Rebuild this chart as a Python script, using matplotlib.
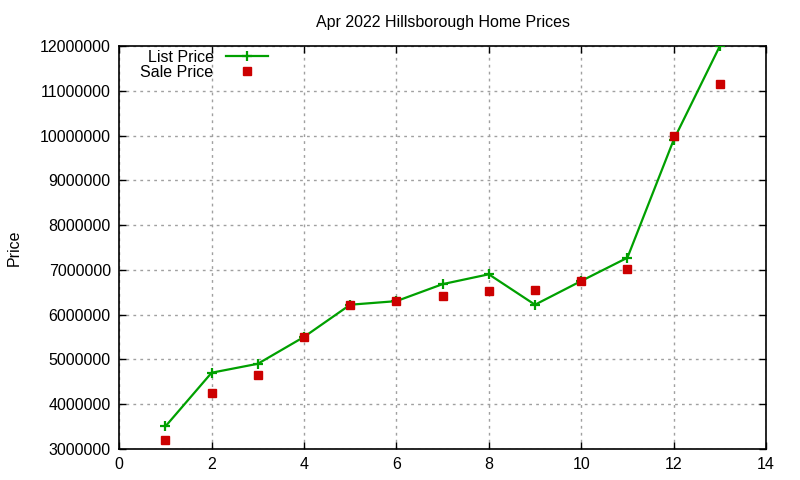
import matplotlib
matplotlib.use("Agg")
import matplotlib.pyplot as plt
from matplotlib.ticker import FuncFormatter

plt.rcParams['font.family'] = ['Liberation Sans', 'DejaVu Sans']

x = [1, 2, 3, 4, 5, 6, 7, 8, 9, 10, 11, 12, 13]
list_price = [3500000, 4700000, 4900000, 5500000, 6220000, 6300000, 6680000,
              6900000, 6220000, 6750000, 7270000, 9900000, 12000000]
sale_price = [3200000, 4250000, 4640000, 5500000, 6210000, 6300000, 6420000,
              6520000, 6560000, 6750000, 7020000, 10000000, 11150000]
x_ticks = [0, 2, 4, 6, 8, 10, 12, 14]
y_ticks = [3000000, 4000000, 5000000, 6000000, 7000000, 8000000, 9000000,
           10000000, 11000000, 12000000]

fig = plt.figure(figsize=(8, 4.8), dpi=100)
ax = fig.add_axes([0.149, 0.065, 0.8085, 0.839])

ax.plot(x, list_price, color='#00a000', lw=1.6, marker='+', ms=6.5, mew=1.6,
        label='List Price', zorder=3)
ax.plot(x, sale_price, ls='none', color='#cc0000', marker='s', ms=6,
        label='Sale Price', zorder=4)

ax.set_xlim(0, 14)
ax.set_ylim(3000000, 12000000)
ax.set_xticks(x_ticks)
ax.set_yticks(y_ticks)
ax.yaxis.set_major_formatter(FuncFormatter(lambda v, p: f"{int(round(v))}"))
ax.tick_params(direction='in', top=True, right=True, length=5, width=1,
               labelsize=11.5, pad=6)
ax.grid(True, color='#a0a0a0', ls=(0, (2, 3)), lw=1)
for s in ax.spines.values():
    s.set_linewidth(1.2)

ax.set_title('Apr 2022 Hillsborough Home Prices', fontsize=11.5, pad=14)
ax.set_ylabel('Price', fontsize=11.5, labelpad=13)

ax.legend(loc='upper left', bbox_to_anchor=(0.018, 1.015), frameon=False,
          markerfirst=False, fontsize=11.5, handlelength=2.6,
          labelspacing=0.0, borderaxespad=0.2)

fig.savefig('out.png', dpi=100)
